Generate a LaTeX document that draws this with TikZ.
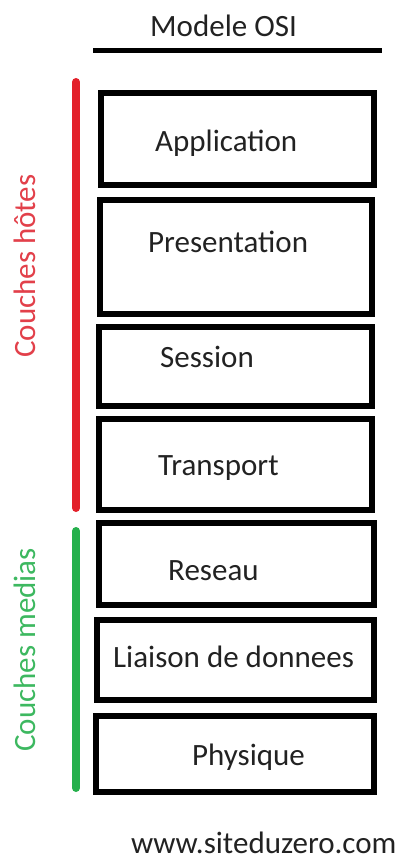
\documentclass[tikz,border=0pt]{standalone}
\usepackage{fontspec}
\setmainfont{Carlito}
\definecolor{txt}{HTML}{222222}
\definecolor{hostred}{HTML}{E3202A}
\definecolor{mediagreen}{HTML}{25B04C}
\definecolor{hosttxt}{HTML}{E2404A}
\definecolor{mediatxt}{HTML}{3DB860}
\begin{document}
\begin{tikzpicture}[x=1pt,y=-1pt,
  layer/.style={draw=black, line width=6pt, rectangle, inner sep=0pt},
  lbl/.style={anchor=base west, inner sep=0pt, text=txt, font=\fontsize{31}{36}\selectfont},
  side/.style={anchor=base west, inner sep=0pt, rotate=90, font=\fontsize{31}{36}\selectfont},
  bar/.style={line width=8pt, line cap=round}]
\useasboundingbox (0,0) rectangle (402,861);
% title
\node[lbl] (title) at (150,37) {Modele OSI};
\coordinate (tl) at (93,51);
\coordinate (tr) at (382,51);
\draw[line width=5pt] (tl) -- (tr);
% boxes
\node[layer, minimum width=273pt, minimum height=92pt] (app) at (237.5,139) {};
\node[layer, minimum width=272pt, minimum height=114pt] (pres) at (236,257) {};
\node[layer, minimum width=273pt, minimum height=79pt] (sess) at (235.5,366.5) {};
\node[layer, minimum width=273pt, minimum height=91pt] (trans) at (235.5,464.5) {};
\node[layer, minimum width=275pt, minimum height=82pt] (res) at (236.5,564) {};
\node[layer, minimum width=277pt, minimum height=80pt] (liai) at (235.5,660) {};
\node[layer, minimum width=278pt, minimum height=76pt] (phys) at (235,754) {};
% labels
\node[lbl] (tapp) at (155,152) {Application};
\node[lbl] (tpres) at (148,252) {Presentation};
\node[lbl] (tsess) at (160,367) {Session};
\node[lbl] (ttrans) at (158,475) {Transport};
\node[lbl] (tres) at (168,580) {Reseau};
\node[lbl] (tliai) at (113,667) {Liaison de donnees};
\node[lbl] (tphys) at (192,765) {Physique};
% side bars
\coordinate (rt) at (76,82);
\coordinate (rb) at (76,508);
\coordinate (gt) at (76,531);
\coordinate (gb) at (76,788);
\draw[bar, hostred] (rt) -- (rb);
\draw[bar, mediagreen] (gt) -- (gb);
\node[side, text=hosttxt] (hotes) at (35,358) {Couches hôtes};
\node[side, text=mediatxt] (medias) at (35,752) {Couches medias};
% footer
\node[lbl] (site) at (131,853) {www.siteduzero.com};
\end{tikzpicture}
\end{document}
